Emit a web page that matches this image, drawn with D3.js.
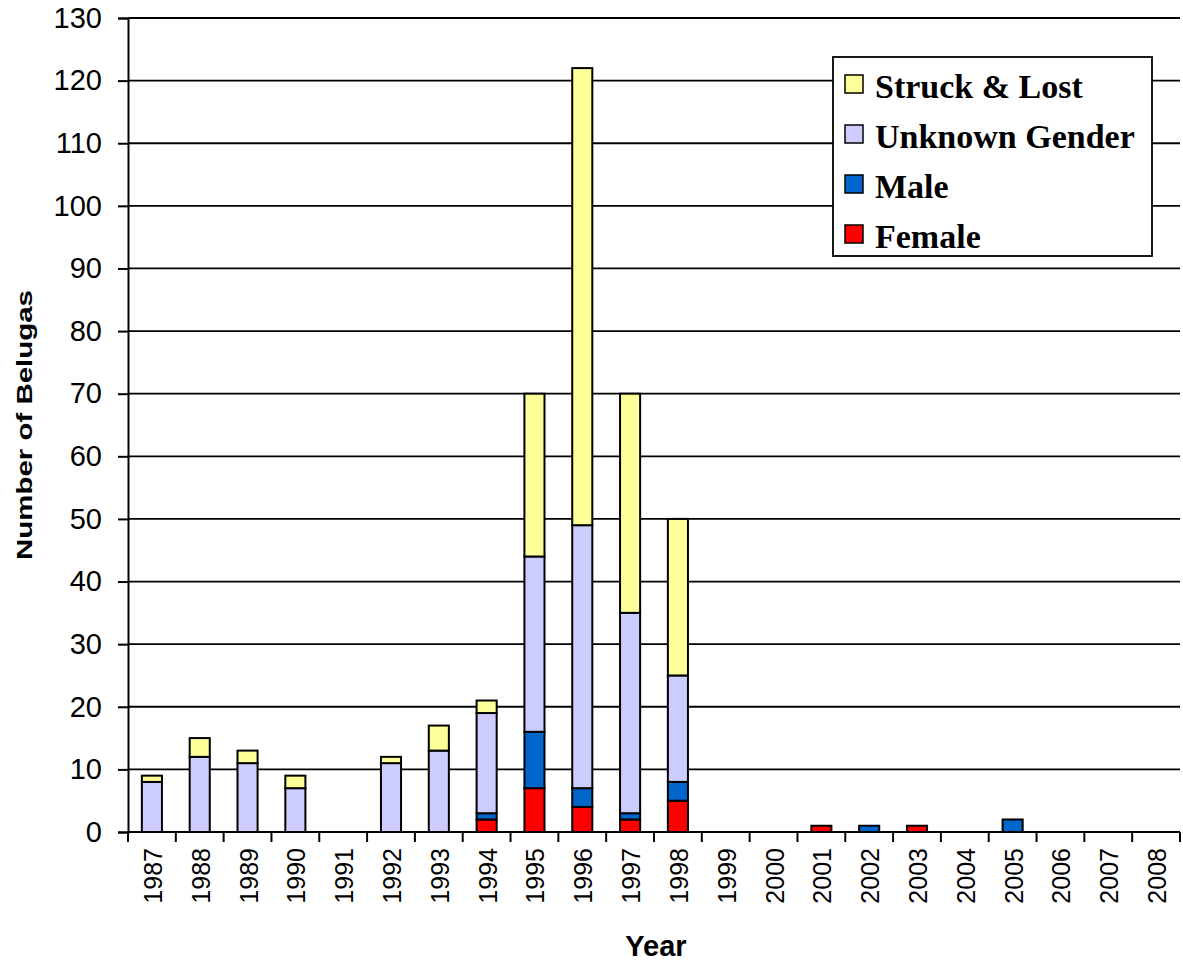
<!DOCTYPE html>
<html>
<head>
<meta charset="utf-8">
<script src="https://cdn.jsdelivr.net/npm/d3@7"></script>
<style>
  body { margin: 0; background: #fff; }
</style>
</head>
<body>
<div id="chart"></div>
<script>
const width = 1183;
const height = 966;

// data
const years = ['1987', '1988', '1989', '1990', '1991', '1992', '1993', '1994', '1995', '1996', '1997',
  '1998', '1999', '2000', '2001', '2002', '2003', '2004', '2005', '2006', '2007', '2008'];
const female  = [0, 0, 0, 0, 0, 0, 0, 2, 7, 4, 2, 5, 0, 0, 1, 0, 1, 0, 0, 0, 0, 0];
const male    = [0, 0, 0, 0, 0, 0, 0, 1, 9, 3, 1, 3, 0, 0, 0, 1, 0, 0, 2, 0, 0, 0];
const unknown = [8, 12, 11, 7, 0, 11, 13, 16, 28, 42, 32, 17, 0, 0, 0, 0, 0, 0, 0, 0, 0, 0];
const struck  = [1, 3, 2, 2, 0, 1, 4, 2, 26, 73, 35, 25, 0, 0, 0, 0, 0, 0, 0, 0, 0, 0];
const yTicks = d3.range(0, 131, 10);

const seriesNames = ['Female', 'Male', 'Unknown Gender', 'Struck & Lost'];
const seriesColors = ['#FF0000', '#0066CC', '#CCCCFF', '#FFFF99'];

const rows = years.map((y, i) => ({
  year: y,
  'Female': female[i],
  'Male': male[i],
  'Unknown Gender': unknown[i],
  'Struck & Lost': struck[i]
}));

const margin = { left: 128, right: 3, top: 18, bottom: 134 };
const arial = 'Arial, "Liberation Sans", sans-serif';

const svg = d3.select('#chart').append('svg')
  .attr('width', width)
  .attr('height', height);

const x = d3.scaleBand()
  .domain(years)
  .range([margin.left, width - margin.right])
  .paddingInner(0.58)
  .paddingOuter(0.29);

const y = d3.scaleLinear()
  .domain([0, 130])
  .range([height - margin.bottom, margin.top]);

// gridlines
svg.append('g')
  .selectAll('line')
  .data(yTicks)
  .join('line')
  .attr('x1', margin.left)
  .attr('x2', width - margin.right)
  .attr('y1', d => y(d))
  .attr('y2', d => y(d))
  .attr('stroke', '#000')
  .attr('stroke-width', 1.8);

// stacked bars
const stack = d3.stack().keys(seriesNames)(rows);
svg.append('g')
  .selectAll('g')
  .data(stack)
  .join('g')
  .attr('fill', (d, i) => seriesColors[i])
  .selectAll('rect')
  .data(d => d.filter(s => s[1] - s[0] > 0))
  .join('rect')
  .attr('x', d => x(d.data.year))
  .attr('width', x.bandwidth())
  .attr('y', d => y(d[1]))
  .attr('height', d => y(d[0]) - y(d[1]))
  .attr('stroke', '#000')
  .attr('stroke-width', 2);

// y axis
const yAxis = svg.append('g')
  .attr('transform', `translate(${margin.left},0)`)
  .call(d3.axisLeft(y).tickValues(yTicks).tickSize(10).tickPadding(16));
yAxis.selectAll('text')
  .style('font-family', arial)
  .style('font-size', '29px')
  .attr('fill', '#000');
yAxis.selectAll('line, path').attr('stroke', '#000').attr('stroke-width', 2);

// x axis: ticks on band boundaries
const xAxis = svg.append('g')
  .attr('transform', `translate(0,${height - margin.bottom})`);
xAxis.append('line')
  .attr('x1', margin.left)
  .attr('x2', width - margin.right)
  .attr('stroke', '#000')
  .attr('stroke-width', 2);
const step = x.step();
const bounds = years.map(yr => x(yr) - x.paddingInner() * step / 2).concat([width - margin.right]);
xAxis.selectAll('line.tick')
  .data(bounds)
  .join('line')
  .attr('class', 'tick')
  .attr('x1', d => d)
  .attr('x2', d => d)
  .attr('y1', 0)
  .attr('y2', 10)
  .attr('stroke', '#000')
  .attr('stroke-width', 2);
xAxis.selectAll('text')
  .data(years)
  .join('text')
  .attr('transform', d => `translate(${x(d) + x.bandwidth() / 2 + 10},16) rotate(-90)`)
  .attr('text-anchor', 'end')
  .style('font-family', arial)
  .style('font-size', '25px')
  .text(d => d);

// axis titles
svg.append('text')
  .attr('x', 656)
  .attr('y', 956)
  .attr('text-anchor', 'middle')
  .style('font-family', arial)
  .style('font-weight', 'bold')
  .style('font-size', '29px')
  .text('Year');

svg.append('text')
  .attr('transform', 'translate(32,425) rotate(-90)')
  .attr('text-anchor', 'middle')
  .attr('textLength', 270)
  .attr('lengthAdjust', 'spacingAndGlyphs')
  .style('font-family', arial)
  .style('font-weight', 'bold')
  .style('font-size', '22px')
  .text('Number of Belugas');

// legend
const legend = svg.append('g').attr('transform', 'translate(833,57)');
legend.append('rect')
  .attr('width', 319)
  .attr('height', 199)
  .attr('fill', '#fff')
  .attr('stroke', '#000')
  .attr('stroke-width', 1.8);
const legendOrder = seriesNames.slice().reverse();
const item = legend.selectAll('g.item')
  .data(legendOrder)
  .join('g')
  .attr('class', 'item')
  .attr('transform', (d, i) => `translate(12,${28 + i * 50})`);
item.append('rect')
  .attr('y', -10)
  .attr('width', 18)
  .attr('height', 18)
  .attr('fill', d => seriesColors[seriesNames.indexOf(d)])
  .attr('stroke', '#000')
  .attr('stroke-width', 1.5);
item.append('text')
  .attr('x', 30)
  .attr('y', 13)
  .style('font-family', '"Liberation Serif", "Times New Roman", serif')
  .style('font-weight', 'bold')
  .style('font-size', '34px')
  .text(d => d);
</script>
</body>
</html>
